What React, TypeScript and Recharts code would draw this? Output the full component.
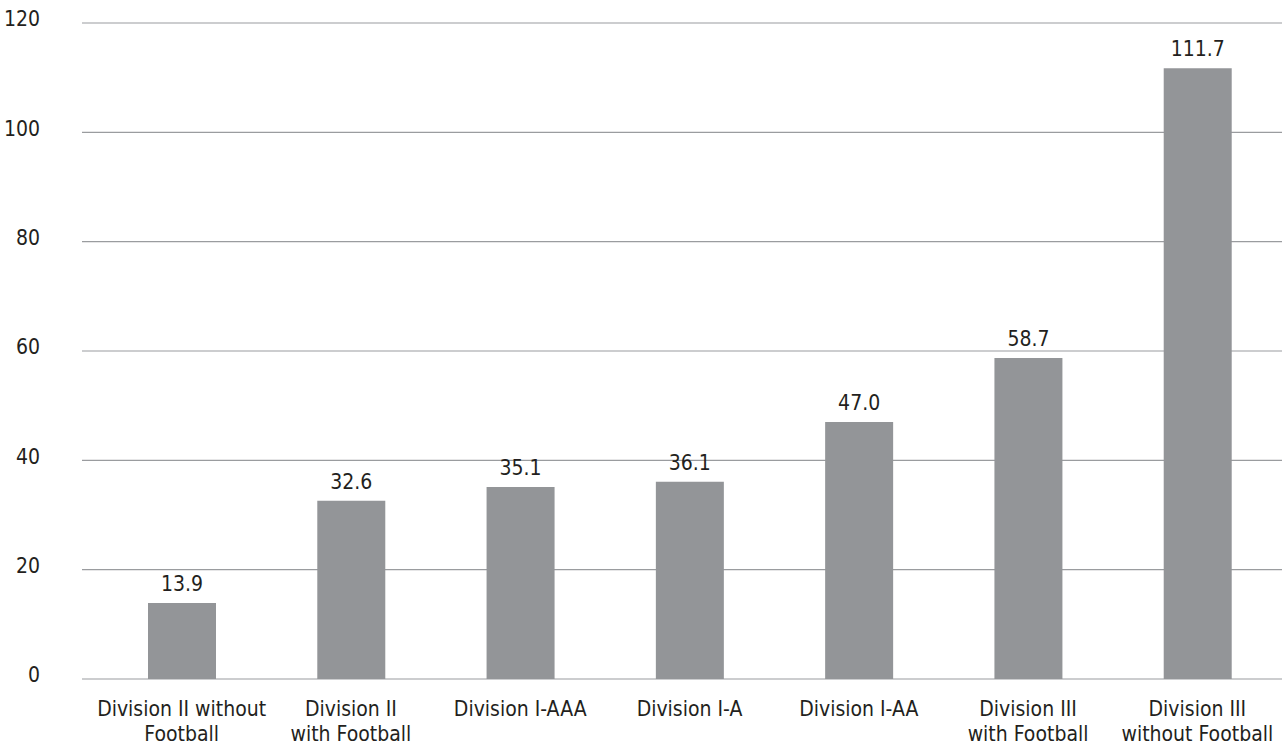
import { BarChart, Bar, XAxis, YAxis, CartesianGrid, LabelList } from "recharts";

const categories = [
  "Division II without\nFootball",
  "Division II\nwith Football",
  "Division I-AAA",
  "Division I-A",
  "Division I-AA",
  "Division III\nwith Football",
  "Division III\nwithout Football",
];

const values = [13.9, 32.6, 35.1, 36.1, 47.0, 58.7, 111.7];

const yTicks = [0, 20, 40, 60, 80, 100, 120];

const FONT = "'Liberation Sans Narrow', 'DejaVu Sans Condensed', 'Roboto Condensed', Roboto, sans-serif";
const TEXT = "#231f20";

const data = categories.map((name, i) => ({ name, value: values[i] }));

function XTick(props: any) {
  const { x, y, payload } = props;
  const lines = String(payload.value).split("\n");
  return (
    <text x={x} y={y} textAnchor="middle" fill={TEXT} fontFamily={FONT} fontSize={21}>
      {lines.map((l, i) => (
        <tspan key={i} x={x} dy={i === 0 ? 31 : 25}>
          {l}
        </tspan>
      ))}
    </text>
  );
}

function YTick(props: any) {
  const { x, y, payload } = props;
  return (
    <text x={x} y={y - 4} dy="0.355em" textAnchor="end" fill={TEXT} fontFamily={FONT} fontSize={21}>
      {payload.value}
    </text>
  );
}

export default function App() {
  return (
    <div style={{ width: 1285, height: 746, background: "#fff" }}>
      <style>{`body{margin:0}`}</style>
      <BarChart
        width={1285}
        height={746}
        data={data}
        margin={{ top: 23, right: 3, bottom: 0, left: 0 }}
        barSize={68}
      >
        <CartesianGrid horizontal vertical={false} stroke="#9a9c9f" strokeWidth={1.2} />
        <XAxis
          dataKey="name"
          interval={0}
          height={67}
          axisLine={false}
          tickLine={false}
          padding={{ left: 15, right: 0 }}
          tick={<XTick />}
          tickMargin={0}
        />
        <YAxis
          domain={[0, 120]}
          ticks={yTicks}
          width={82}
          axisLine={false}
          tickLine={false}
          tickMargin={36}
          tick={<YTick />}
        />
        <Bar dataKey="value" fill="#939598" isAnimationActive={false}>
          <LabelList
            dataKey="value"
            position="top"
            offset={12}
            formatter={(v: any) => Number(v).toFixed(1)}
            style={{ fill: TEXT, fontFamily: FONT, fontSize: 21 }}
          />
        </Bar>
      </BarChart>
    </div>
  );
}
